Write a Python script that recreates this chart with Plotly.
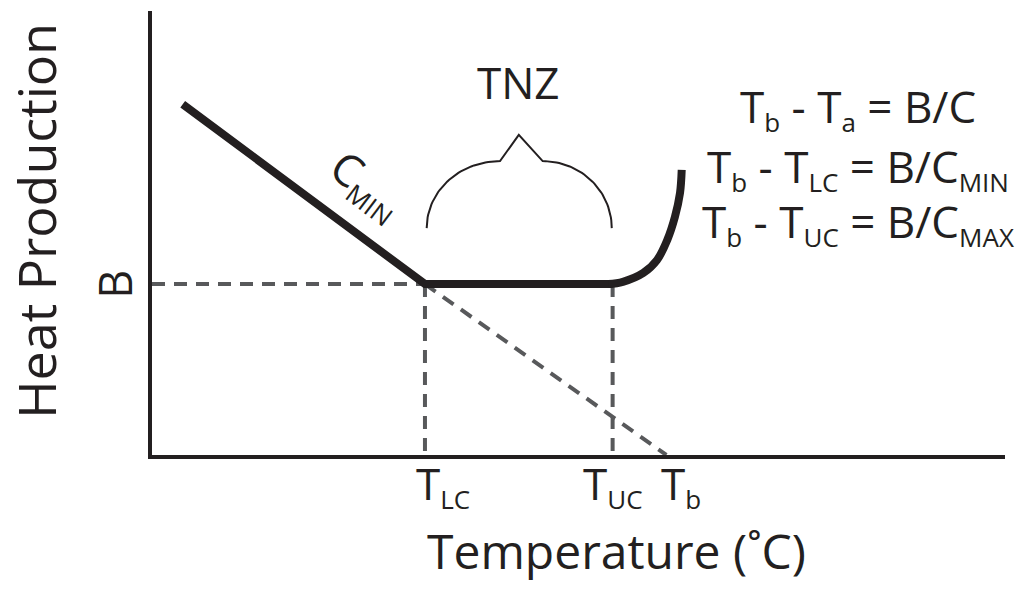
import numpy as np
import plotly.graph_objects as go

# ---- data ----
T_LC = 32.0
T_UC = 54.0
T_B = 60.3
B = 38.5
# thick heat-production curve: straight C_MIN part and flat TNZ part
line_T = [3.6, T_LC, T_UC]
line_H = [79.0, B, B]
# rising part above the upper critical temperature
curve_T = [53.5, 55.2, 57.6, 59.2, 60.4, 61.3, 61.9, 62.1]
curve_H = [38.5, 39.0, 41.0, 43.9, 48.4, 53.6, 59.0, 64.2]
# brace over the thermoneutral zone
brace_base = 51.1
brace_shoulder = 66.2
brace_peak = 72.1
# tick-like labels under the axis
tick_names = ["LC", "UC", "b"]
tick_vals = [T_LC, T_UC, T_B]

INK = "#231f20"
GREY = "#58595b"
FONT = "Open Sans"

fig = go.Figure()

dash = "13px,9px"
for xs, ys in [([0, T_LC], [B, B]), ([T_LC, T_LC], [B, 0]),
               ([T_UC, T_UC], [B, 0]), ([T_LC, T_B], [B, 0])]:
    fig.add_trace(go.Scatter(x=xs, y=ys, mode="lines",
                             line=dict(color=GREY, width=4, dash=dash), hoverinfo="skip"))

# thick heat production line
fig.add_trace(go.Scatter(x=line_T, y=line_H, mode="lines",
                         line=dict(color=INK, width=8), hoverinfo="skip"))
fig.add_trace(go.Scatter(x=curve_T, y=curve_H, mode="lines",
                         line=dict(color=INK, width=8, shape="spline"), hoverinfo="skip"))

# brace over TNZ built from T_LC / T_UC
mid = (T_LC + T_UC) / 2
jl, jr = mid - 2.2, mid + 2.8
x0, x1 = T_LC + 0.2, T_UC - 0.1
th = np.linspace(np.pi, np.pi / 2, 40)
lx = jl + (jl - x0) * np.cos(th)
ly = brace_base + (brace_shoulder - brace_base) * np.sin(th)
th2 = np.linspace(np.pi / 2, 0, 40)
rx = jr + (x1 - jr) * np.cos(th2)
ry = brace_base + (brace_shoulder - brace_base) * np.sin(th2)
bx = np.concatenate([lx, [mid], rx])
by = np.concatenate([ly, [brace_peak], ry])
fig.add_trace(go.Scatter(x=bx, y=by, mode="lines",
                         line=dict(color=INK, width=2), hoverinfo="skip"))

ann = []
def A(text, x, y, size, **kw):
    d = dict(text=text, x=x, y=y, showarrow=False, xanchor="center", yanchor="middle",
             borderpad=0, font=dict(family=FONT, size=size, color=INK))
    d.update(kw)
    ann.append(d)

def sub(t, px):
    return f'<sub><span style="font-size:{px}px">{t}</span></sub>'

# axis titles
A("Heat Production", -0.1375, 0.527, 52, xref="paper", yref="paper", textangle=-90)
A("Temperature (˚C)", 0.545, -0.215, 48, xref="paper", yref="paper")
A("B", -0.045, B, 45, xref="paper", yref="y", textangle=-90)

# x tick-like labels
shifts = [-10, -31, -6]
for name, xv, sh in zip(tick_names, tick_vals, shifts):
    A("T" + sub(name, 26), xv, 0, 44, xref="x", yref="y", xanchor="left", yanchor="top",
      xshift=sh, yshift=3)

# TNZ and C_MIN
A("TNZ", mid, 84.0, 44, xref="x", yref="y")
A("C" + sub("MIN", 26), 25.2, 60.8, 44, xref="x", yref="y", textangle=37)

# formulas
A("T" + sub("b", 26) + " - T" + sub("a", 26) + " = B/C", 82.8, 78.2, 44, xref="x", yref="y")
A("T" + sub("b", 26) + " - T" + sub("LC", 26) + " = B/C" + sub("MIN", 26), 82.8, 64.7, 44, xref="x", yref="y")
A("T" + sub("b", 26) + " - T" + sub("UC", 26) + " = B/C" + sub("MAX", 26), 82.8, 52.3, 44, xref="x", yref="y")

fig.update_layout(
    width=1023, height=606,
    margin=dict(l=152, r=18, t=11, b=151),
    paper_bgcolor="white", plot_bgcolor="white",
    showlegend=False,
    annotations=ann,
    xaxis=dict(range=[0, 100], showgrid=False, zeroline=False, showticklabels=False,
               ticks="", showline=True, linewidth=4, linecolor=INK, fixedrange=True),
    yaxis=dict(range=[0, 100], showgrid=False, zeroline=False, showticklabels=False,
               ticks="", showline=True, linewidth=4, linecolor=INK, fixedrange=True),
)

fig.write_html("out.html", config={"displayModeBar": False})
